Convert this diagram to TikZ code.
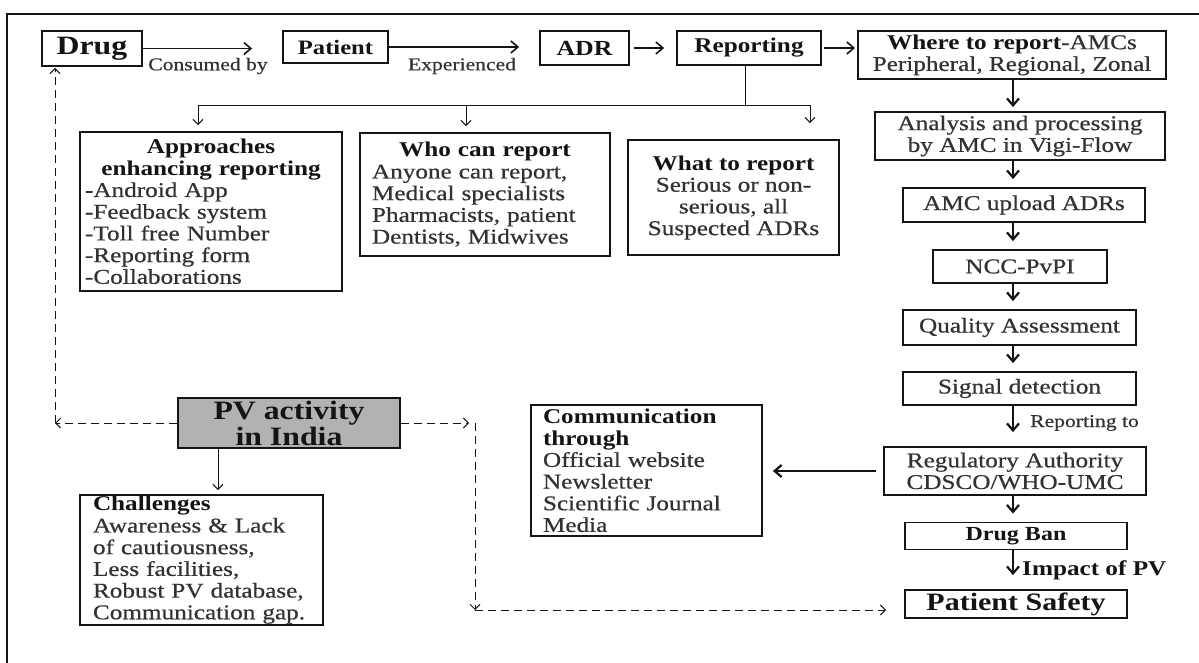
\documentclass[tikz,border=0pt]{standalone}
\usepackage{fontspec}
\setmainfont{Liberation Serif}[FakeStretch=1.2, UprightFeatures={FakeBold=0.6}]
\usepackage{xcolor}
\usetikzlibrary{arrows.meta,positioning,calc}
\definecolor{inkDark}{RGB}{20,20,20}
\definecolor{inkText}{RGB}{50,50,50}
\definecolor{pvGray}{RGB}{178,178,178}
\newcommand{\boxhead}[1]{\textcolor{inkDark}{\textbf{#1}}}
\newcommand{\headline}[1]{\makebox[\hsize]{\boxhead{#1}}}
\tikzset{
  flowbox/.style={
    rectangle, draw=inkDark, line width=1.8pt, inner sep=1pt,
    text=inkText, font=\fontsize{21}{21.7}\selectfont, align=center
  },
  titlebox/.style={flowbox, text=inkDark, font=\fontsize{21}{22}\selectfont\bfseries},
  listbox/.style={flowbox, align=left},
  flowArrow/.style={-{Straight Barb[length=7pt,width=12pt]}, line width=1.6pt, color=inkDark},
  downArrow/.style={flowArrow, line width=2.2pt},
  thinArrow/.style={-{Straight Barb[length=5pt,width=10pt]}, line width=1pt, color=inkDark},
  dashArrow/.style={thinArrow, dash pattern=on 8pt off 5pt},
  edgeLabel/.style={text=inkText, font=\fontsize{18}{18}\selectfont, inner sep=0pt}
}

\begin{document}
\begin{tikzpicture}[x=1pt, y=-1pt]
  \useasboundingbox (0,0) rectangle (1199,663);
  % frame
  \draw[line width=1.2pt, inkDark] (7,663) -- (7,14) -- (1199,14);

  % top row
  \node[titlebox, font=\fontsize{26.5}{27}\selectfont\bfseries,
        minimum width=100pt, minimum height=35pt] (drug) at (92,48.5) {Drug};
  \node[titlebox, font=\fontsize{20.5}{21}\selectfont\bfseries,
        minimum width=105pt, minimum height=32pt] (patient) at (335.5,47) {Patient};
  \node[titlebox, font=\fontsize{21.5}{22}\selectfont\bfseries,
        minimum width=89pt, minimum height=34pt] (adr) at (584.5,48) {ADR};
  \node[titlebox, minimum width=144pt, minimum height=34pt] (report) at (749,48) {Reporting};
  \node[flowbox, minimum width=308pt, minimum height=48pt] (where) at (1012,55)
    {\boxhead{Where to report}-AMCs\\Peripheral, Regional, Zonal};

  \node[edgeLabel] (consumed) at (208,66) {Consumed by};
  \node[edgeLabel] (experienced) at (462,66) {Experienced};

  % reporting branches
  \node[listbox, text width=252pt, inner xsep=5pt, minimum height=159pt] (approach) at (211,211.5)
    {\headline{Approaches}\\\headline{enhancing reporting}\\
     -Android App\\-Feedback system\\-Toll free Number\\-Reporting form\\-Collaborations};
  \node[listbox, text width=226pt, inner xsep=12pt, minimum height=123pt] (who) at (485,194.5)
    {\headline{Who can report}\\Anyone can report,\\Medical specialists\\
     Pharmacists, patient\\Dentists, Midwives};
  \node[flowbox, minimum width=211pt, minimum height=115pt] (what) at (733.5,197.5)
    {\boxhead{What to report}\\Serious or non-\\serious, all\\Suspected ADRs};

  % right column
  \node[flowbox, minimum width=290pt, minimum height=48pt] (analysis) at (1020,136)
    {Analysis and processing\\by AMC in Vigi-Flow};
  \node[flowbox, minimum width=242pt, minimum height=34pt] (upload) at (1024,205) {AMC upload ADRs};
  \node[flowbox, minimum width=174pt, minimum height=33pt] (ncc) at (1020,266.5) {NCC-PvPI};
  \node[flowbox, minimum width=233pt, minimum height=35pt] (quality) at (1019.5,327.5) {Quality Assessment};
  \node[flowbox, minimum width=233pt, minimum height=33pt] (signal) at (1019.5,388.5) {Signal detection};
  \node[flowbox, minimum width=262pt, minimum height=48pt] (regulatory) at (1015,471)
    {Regulatory Authority\\CDSCO/WHO-UMC};
  \node[titlebox, font=\fontsize{20}{20}\selectfont\bfseries,
        minimum width=222pt, minimum height=27pt] (ban) at (1016,536) {Drug Ban};
  \node[titlebox, font=\fontsize{25}{25}\selectfont\bfseries,
        minimum width=222pt, minimum height=28pt] (safety) at (1016,604) {Patient Safety};

  \node[edgeLabel, anchor=west] (reportingto) at (1030,423) {Reporting to};
  \node[edgeLabel, anchor=west, text=inkDark, font=\fontsize{21}{21}\selectfont\bfseries]
    (impact) at (1022,570) {Impact of PV};

  % lower left
  \node[listbox, text width=207pt, inner xsep=12pt, minimum height=131pt] (comm) at (646.5,470.5)
    {\boxhead{Communication}\\\boxhead{through}\\Official website\\Newsletter\\
     Scientific Journal\\Media};
  \node[titlebox, fill=pvGray, font=\fontsize{26.5}{26}\selectfont\bfseries, inner sep=0pt,
        minimum width=222pt, minimum height=50pt] (pv) at (289,423) {PV activity\\in India};
  \node[listbox, text width=217pt, inner xsep=13pt, minimum height=130pt] (chall) at (201.5,560)
    {\boxhead{Challenges}\\Awareness \& Lack\\of cautiousness,\\Less facilities,\\
     Robust PV database,\\Communication gap.};

  % helper points
  \coordinate (branch) at (745,106);
  \coordinate (dropA) at (198,106);
  \coordinate (dropB) at (466,106);
  \coordinate (dropC) at (810,106);
  \coordinate (colx) at (1013,0);
  \coordinate (pvDrop) at (218,0);
  \coordinate (cornerL) at (55,423);
  \coordinate (cornerR) at (475,423);
  \coordinate (cornerB) at (475,610);

  % top row arrows
  \draw[flowArrow, shorten >=30pt] (drug.east) -- (drug.east -| patient.west);
  \draw[flowArrow, shorten >=20pt] (patient.east) -- (patient.east -| adr.west);
  \draw[flowArrow, shorten >=12pt, shorten <=4pt] (adr.east) -- (adr.east -| report.west);
  \draw[flowArrow, shorten >=2pt, shorten <=2pt] (report.east) -- (report.east -| where.west);

  % branches from reporting
  \draw[line width=1pt, inkDark] (report.south -| branch) -- (branch);
  \draw[thinArrow, shorten >=6pt] (branch) -| (dropA |- approach.north);
  \draw[thinArrow, shorten >=6pt] (branch) -| (dropB |- who.north);
  \draw[thinArrow, shorten >=16pt] (branch) -| (dropC |- what.north);

  % right column arrows
  \draw[downArrow, shorten >=4pt] (where.south -| colx) -- (analysis.north -| colx);
  \draw[downArrow, shorten >=8pt] (analysis.south -| colx) -- (upload.north -| colx);
  \draw[downArrow, shorten >=8pt] (upload.south -| colx) -- (ncc.north -| colx);
  \draw[downArrow, shorten >=8pt] (ncc.south -| colx) -- (quality.north -| colx);
  \draw[downArrow, shorten >=8pt] (quality.south -| colx) -- (signal.north -| colx);
  \draw[downArrow, shorten >=14pt] (signal.south -| colx) -- (regulatory.north -| colx);
  \draw[downArrow, shorten >=8pt] (regulatory.south -| colx) -- (ban.north -| colx);
  \draw[downArrow, shorten >=14pt] (ban.south -| colx) -- (safety.north -| colx);
  \draw[downArrow, shorten >=10pt, shorten <=7pt] (regulatory.west) -- (regulatory.west -| comm.east);

  % PV activity links
  \draw[thinArrow, shorten >=4pt] (pv.south -| pvDrop) -- (chall.north -| pvDrop);
  \draw[dashArrow] (pv.west) -- (pv.west -| cornerL);
  \draw[dashArrow, shorten >=1pt] (cornerL) -- (cornerL |- drug.south);
  \draw[dashArrow, shorten >=6pt] (pv.east) -- (pv.east -| cornerR);
  \draw[dashArrow] (cornerR) -- (cornerB);
  \draw[dashArrow, shorten >=18pt] (cornerB) -- (cornerB -| safety.west);
\end{tikzpicture}
\end{document}
